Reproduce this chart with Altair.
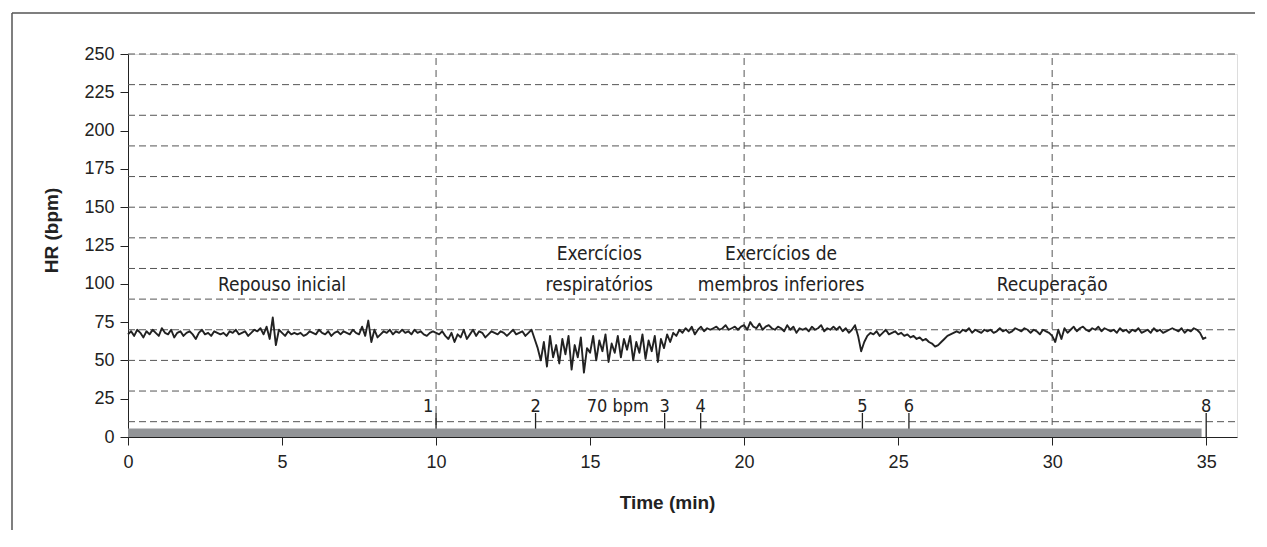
import altair as alt
import pandas as pd

# Heart-rate trace, one value every 0.1 min (rows = minutes 0..34, plus the 35.0 value)
hr_bpm = [
    67, 69, 66, 70, 68, 65, 69, 67, 70, 68,   # 0
    66, 71, 68, 67, 70, 65, 68, 69, 66, 68,   # 1
    69, 67, 64, 68, 70, 67, 68, 66, 69, 68,   # 2
    67, 68, 66, 69, 68, 70, 67, 68, 69, 66,   # 3
    68, 70, 69, 71, 67, 72, 64, 78, 60, 70,   # 4
    68, 66, 69, 67, 68, 67, 68, 66, 67, 69,   # 5
    68, 67, 70, 68, 67, 69, 66, 68, 69, 67,   # 6
    69, 68, 67, 70, 68, 67, 72, 66, 76, 62,   # 7
    70, 65, 67, 69, 68, 70, 67, 69, 68, 70,   # 8
    68, 69, 67, 70, 68, 69, 67, 66, 68, 69,   # 9
    68, 67, 69, 66, 64, 68, 62, 67, 65, 70,   # 10
    64, 67, 70, 66, 69, 68, 65, 67, 69, 68,   # 11
    67, 69, 68, 66, 68, 70, 67, 68, 69, 66,   # 12
    68, 70, 64, 58, 50, 62, 46, 66, 52, 60,   # 13
    48, 64, 54, 66, 44, 60, 52, 65, 42, 58,   # 14
    55, 66, 50, 63, 56, 67, 49, 61, 55, 66,   # 15
    52, 64, 57, 66, 50, 62, 55, 67, 51, 63,   # 16
    56, 66, 49, 64, 58, 67, 62, 68, 66, 70,   # 17
    68, 71, 69, 72, 67, 70, 72, 69, 71, 70,   # 18
    71, 72, 70, 71, 73, 70, 71, 72, 70, 72,   # 19
    73, 70, 75, 72, 71, 74, 70, 72, 73, 71,   # 20
    70, 72, 71, 69, 73, 70, 72, 68, 71, 70,   # 21
    71, 69, 72, 70, 71, 73, 69, 71, 70, 72,   # 22
    70, 72, 69, 71, 68, 70, 73, 66, 56, 62,   # 23
    66, 68, 67, 69, 66, 68, 70, 67, 68, 69,   # 24
    67, 68, 66, 67, 65, 66, 64, 65, 63, 64,   # 25
    62, 61, 59, 60, 62, 64, 66, 67, 68, 69,   # 26
    68, 70, 69, 71, 68, 70, 69, 68, 70, 69,   # 27
    70, 68, 69, 71, 69, 70, 68, 69, 71, 70,   # 28
    69, 71, 70, 68, 70, 69, 67, 70, 69, 68,   # 29
    66, 62, 70, 64, 71, 68, 70, 72, 69, 71,   # 30
    72, 70, 69, 71, 70, 72, 69, 71, 70, 69,   # 31
    70, 68, 71, 69, 70, 68, 70, 69, 71, 68,   # 32
    69, 70, 68, 71, 69, 70, 68, 69, 70, 71,   # 33
    70, 69, 71, 68, 70, 69, 71, 70, 68, 64,   # 34
    65,
]
sample_step_min = 0.1
time_min = [round(i * sample_step_min, 1) for i in range(len(hr_bpm))]

x_ticks = [0, 5, 10, 15, 20, 25, 30, 35]
y_ticks = [0, 25, 50, 75, 100, 125, 150, 175, 200, 225, 250]
x_domain = [0, 36]
y_domain = [0, 250]

grid_h_bpm = [10, 30, 50, 70, 90, 110, 130, 150, 170, 190, 210, 230, 250]
grid_v_min = [10, 20, 30]

event_labels = ["1", "2", "3", "4", "5", "6", "8"]
event_times = [10.0, 13.23, 17.42, 18.59, 23.84, 25.35, 35.0]
event_tick_top = 15.7
event_label_y = 16.5

bar_start, bar_end = 0.0, 34.85
bar_low, bar_high = 0.0, 5.5

note_text = ["70 bpm"]
note_x = [15.9]
note_y = [16.5]

phase_lines = ["Repouso inicial", "Exercícios", "respiratórios",
               "Exercícios de", "membros inferiores", "Recuperação"]
phase_x = [5.0, 15.3, 15.3, 21.2, 21.2, 30.0]
phase_y = [95.0, 115.5, 95.0, 115.5, 95.0, 95.0]

# ---------------------------------------------------------------
INK = "#222222"
GRID = "#555555"
NARROW = "Liberation Sans Narrow, DejaVu Sans Condensed, Liberation Sans, sans-serif"
REG = "Liberation Sans, Arial, sans-serif"

xscale = alt.Scale(domain=x_domain, nice=False, zero=False)
yscale = alt.Scale(domain=y_domain, nice=False)

x_axis = alt.Axis(values=x_ticks, grid=False, tickSize=8, tickColor=INK, domainColor=INK,
                  labelFont=REG, labelFontSize=18, labelColor=INK, labelPadding=8,
                  labelFlush=False, labelOverlap=False, format="d",
                  title="Time (min)", titleFont=REG, titleFontSize=19, titleFontWeight="bold",
                  titleColor=INK, titleX=539, titleY=71, titleBaseline="alphabetic")
y_axis = alt.Axis(values=y_ticks, grid=False, tickSize=8, tickColor=INK, domainColor=INK,
                  labelFont=REG, labelFontSize=18, labelColor=INK, labelPadding=6,
                  labelOverlap=False, format="d",
                  title="HR (bpm)", titleFont=REG, titleFontSize=19, titleFontWeight="bold",
                  titleColor=INK, titleX=-71, titleY=176, titleBaseline="alphabetic")

X = alt.X("t:Q", scale=xscale, axis=x_axis)
Y = alt.Y("v:Q", scale=yscale, axis=y_axis)

df_hr = pd.DataFrame({"t": time_min, "v": hr_bpm})
df_gh = pd.DataFrame({"v": grid_h_bpm, "t": [x_domain[0]] * len(grid_h_bpm), "t2": [x_domain[1]] * len(grid_h_bpm)})
df_gv = pd.DataFrame({"t": grid_v_min, "v": [y_domain[0]] * len(grid_v_min), "v2": [y_domain[1]] * len(grid_v_min)})
df_bar = pd.DataFrame({"t": [bar_start], "t2": [bar_end], "v": [bar_low], "v2": [bar_high]})
df_ev = pd.DataFrame({"t": event_times, "v": [0] * len(event_times),
                      "v2": [event_tick_top] * len(event_times),
                      "ly": [event_label_y] * len(event_times), "lab": event_labels})
df_note = pd.DataFrame({"t": note_x, "v": note_y, "lab": note_text})
df_phase = pd.DataFrame({"t": phase_x, "v": phase_y, "lab": phase_lines})

grid_h = alt.Chart(df_gh).mark_rule(color=GRID, strokeWidth=1, strokeDash=[7, 4]).encode(x=X, x2="t2", y=Y)
grid_v = alt.Chart(df_gv).mark_rule(color=GRID, strokeWidth=1, strokeDash=[7, 5]).encode(x=X, y=Y, y2="v2")
ev_rules = alt.Chart(df_ev).mark_rule(color=INK, strokeWidth=1.3).encode(x=X, y=Y, y2="v2")
bar = alt.Chart(df_bar).mark_rect(color="#929497").encode(x=X, x2="t2", y=Y, y2="v2")
line = alt.Chart(df_hr).mark_line(color=INK, strokeWidth=1.9, strokeJoin="round").encode(x=X, y=Y)

ev_text_main = alt.Chart(df_ev).transform_filter(alt.datum.lab != "1").mark_text(
    font=NARROW, fontSize=18, color=INK, baseline="alphabetic", align="center"
).encode(x=X, y=alt.Y("ly:Q", scale=yscale, axis=y_axis), text="lab:N")
ev_text_one = alt.Chart(df_ev).transform_filter(alt.datum.lab == "1").mark_text(
    font=NARROW, fontSize=18, color=INK, baseline="alphabetic", align="center", dx=-8
).encode(x=X, y=alt.Y("ly:Q", scale=yscale, axis=y_axis), text="lab:N")
note = alt.Chart(df_note).mark_text(font=NARROW, fontSize=18, color=INK, baseline="alphabetic",
                                    align="center").encode(x=X, y=Y, text="lab:N")
phase = alt.Chart(df_phase).mark_text(font=NARROW, fontSize=19, color=INK, baseline="alphabetic",
                                      align="center").encode(x=X, y=Y, text="lab:N")

one = pd.DataFrame({"k": [0]})
frame_left = alt.Chart(one).mark_rule(color="#555555", strokeWidth=1.5).encode(
    x=alt.value(-116), y=alt.value(-41), y2=alt.value(476))
frame_top = alt.Chart(one).mark_rule(color="#555555", strokeWidth=1.5).encode(
    x=alt.value(-116), x2=alt.value(1127), y=alt.value(-41))

chart = alt.layer(
    grid_h, grid_v, ev_rules, bar, line, ev_text_main, ev_text_one, note, phase, frame_left, frame_top
).properties(
    width=1109, height=383,
    autosize=alt.AutoSizeParams(type="none"),
    padding={"left": 120, "top": 46, "right": 20, "bottom": 95},
).configure_view(stroke=None).configure(background="white")

chart.save("out.html", embed_options={"renderer": "svg", "actions": False})
